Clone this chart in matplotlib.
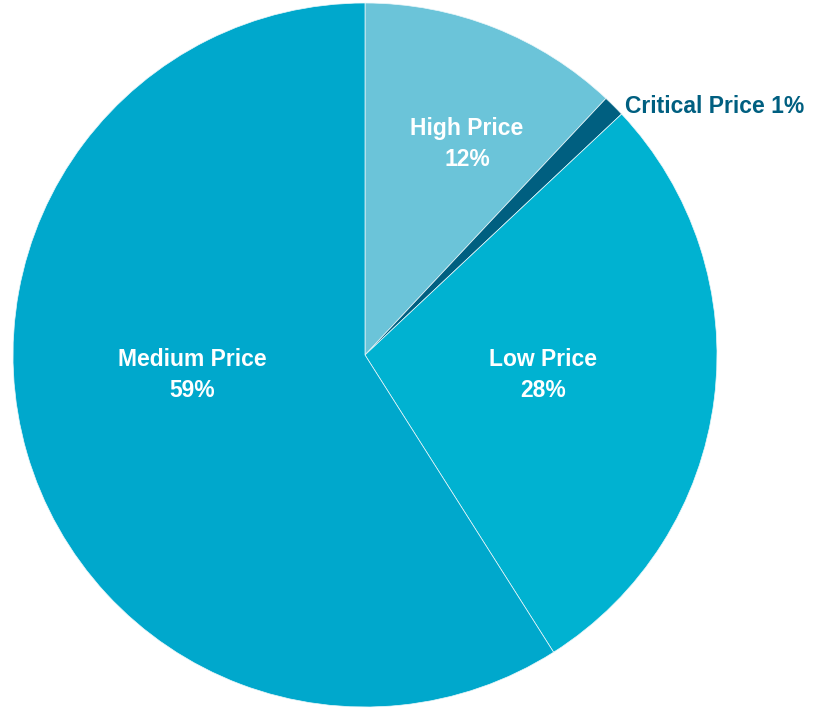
import matplotlib
matplotlib.use("Agg")
import matplotlib.pyplot as plt

# slice data, clockwise from 12 o'clock
categories = ["High Price", "Critical Price", "Low Price", "Medium Price"]
shares = [12, 1, 28, 59]
colors = ["#6BC4D9", "#005F80", "#00B2D1", "#00A8CC"]

plt.rcParams['font.family'] = ['Liberation Sans', 'DejaVu Sans']

fig = plt.figure(figsize=(8.22, 7.09), dpi=100)
# square axes so the pie sits where it does in the reference
ax = fig.add_axes([13 / 822, 2 / 709, 704 / 822, 704 / 709])
ax.pie(shares, colors=colors, startangle=90, counterclock=False,
       radius=1.0, wedgeprops=dict(edgecolor="#EAF7FA", linewidth=0.5))
ax.set_xlim(-1, 1)
ax.set_ylim(-1, 1)
ax.set_aspect("equal")
ax.axis("off")

# label spots (data coords)
spots = {
    "High Price": (0.29, 0.60),
    "Low Price": (0.506, -0.058),
    "Medium Price": (-0.49, -0.058),
}
for name, val in zip(categories, shares):
    if name in spots:
        x, y = spots[name]
        ax.text(x, y, f"{name}\n{val}%", ha="center", va="center",
                color="white", fontsize=16.5, fontweight="bold", linespacing=1.45)

ax.text(0.739, 0.707, f"{categories[1]} {shares[1]}%", ha="left", va="center",
        color=colors[1], fontsize=16.5, fontweight="bold", clip_on=False)

fig.savefig("out.png", dpi=100)
